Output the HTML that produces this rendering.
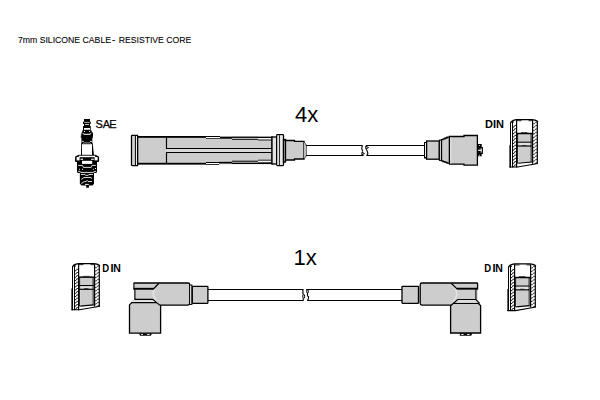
<!DOCTYPE html>
<html><head><meta charset="utf-8">
<style>html,body{margin:0;padding:0;background:#fff;width:600px;height:400px;overflow:hidden}svg{display:block}text{font-family:"Liberation Sans",sans-serif}</style></head><body>
<svg width="600" height="400" viewBox="0 0 600 400">
<g font-size="9.7" fill="#000" stroke="#000" stroke-width="0.1"><text x="18" y="43.2" textLength="93" lengthAdjust="spacingAndGlyphs">7mm SILICONE CABLE</text><text x="111.9" y="43.2">-</text><text x="118.7" y="43.2" textLength="72.6" lengthAdjust="spacingAndGlyphs">RESISTIVE CORE</text></g>
<text x="295" y="121.8" font-size="22" fill="#000">4x</text>
<text x="293.5" y="264.8" font-size="22" fill="#000">1x</text>
<g font-size="11" fill="#000" stroke="#000" stroke-width="0.25"><text x="95.4" y="127.8">S</text><text x="102.7" y="127.8">A</text><text x="109.3" y="127.8">E</text></g>
<g font-size="11" font-weight="bold" fill="#000"><text x="484.9" y="127.8">D</text><text x="493.05" y="127.8">I</text><text x="495.95" y="127.8">N</text></g>
<g font-size="11" font-weight="bold" fill="#000"><text x="102.3" y="271.8" textLength="6.9" lengthAdjust="spacingAndGlyphs">D</text><text x="110.55" y="271.8">I</text><text x="113.3" y="271.8" textLength="7.6" lengthAdjust="spacingAndGlyphs">N</text></g>
<g font-size="11" font-weight="bold" fill="#000"><text x="484.3" y="271.9" textLength="6.9" lengthAdjust="spacingAndGlyphs">D</text><text x="492.55" y="271.9">I</text><text x="495.3" y="271.9" textLength="7.6" lengthAdjust="spacingAndGlyphs">N</text></g>
<g><rect x="517.90" y="134.41" width="13.70" height="7.29" fill="#cdcdcd"/><rect x="517.90" y="142.83" width="13.70" height="2.67" fill="#e2e2e2"/><rect x="518.75" y="146.53" width="11.90" height="16.23" fill="#cdcdcd"/><rect x="518.10" y="147.76" width="0.65" height="15.40" fill="#e6e6e6"/><rect x="531.50" y="134.41" width="0.50" height="28.76" fill="#e6e6e6"/><rect x="509.40" y="145.19" width="0.85" height="22.29" fill="#000"/><rect x="510.00" y="122.70" width="1.00" height="44.78" fill="#000"/><rect x="512.00" y="121.06" width="1.00" height="46.42" fill="#000"/><rect x="516.00" y="120.03" width="1.20" height="47.45" fill="#000"/><rect x="532.00" y="120.24" width="1.20" height="43.54" fill="#000"/><rect x="536.70" y="121.36" width="1.20" height="42.42" fill="#000"/><rect x="514.60" y="124.96" width="1.30" height="0.92" fill="#000"/><rect x="513.00" y="126.60" width="1.00" height="0.92" fill="#000"/><path d="M514.00,127.01 L514.90,125.58" stroke="#000" stroke-width="0.75" fill="none"/><rect x="514.60" y="128.25" width="1.30" height="0.92" fill="#000"/><rect x="513.00" y="129.89" width="1.00" height="0.92" fill="#000"/><path d="M514.00,130.30 L514.90,128.86" stroke="#000" stroke-width="0.75" fill="none"/><rect x="514.60" y="131.53" width="1.30" height="0.92" fill="#000"/><rect x="513.00" y="133.18" width="1.00" height="0.92" fill="#000"/><path d="M514.00,133.59 L514.90,132.15" stroke="#000" stroke-width="0.75" fill="none"/><rect x="514.60" y="134.82" width="1.30" height="0.92" fill="#000"/><rect x="513.00" y="136.46" width="1.00" height="0.92" fill="#000"/><path d="M514.00,136.87 L514.90,135.43" stroke="#000" stroke-width="0.75" fill="none"/><rect x="514.60" y="138.10" width="1.30" height="0.92" fill="#000"/><rect x="513.00" y="139.75" width="1.00" height="0.92" fill="#000"/><path d="M514.00,140.16 L514.90,138.72" stroke="#000" stroke-width="0.75" fill="none"/><rect x="514.60" y="141.39" width="1.30" height="0.92" fill="#000"/><rect x="513.00" y="143.03" width="1.00" height="0.92" fill="#000"/><path d="M514.00,143.45 L514.90,142.01" stroke="#000" stroke-width="0.75" fill="none"/><rect x="514.60" y="144.68" width="1.30" height="0.92" fill="#000"/><rect x="513.00" y="146.32" width="1.00" height="0.92" fill="#000"/><path d="M514.00,146.73 L514.90,145.29" stroke="#000" stroke-width="0.75" fill="none"/><rect x="514.60" y="147.96" width="1.30" height="0.92" fill="#000"/><rect x="513.00" y="149.61" width="1.00" height="0.92" fill="#000"/><path d="M514.00,150.02 L514.90,148.58" stroke="#000" stroke-width="0.75" fill="none"/><rect x="514.60" y="151.25" width="1.30" height="0.92" fill="#000"/><rect x="513.00" y="152.89" width="1.00" height="0.92" fill="#000"/><path d="M514.00,153.30 L514.90,151.87" stroke="#000" stroke-width="0.75" fill="none"/><rect x="514.60" y="154.54" width="1.30" height="0.92" fill="#000"/><rect x="513.00" y="156.18" width="1.00" height="0.92" fill="#000"/><path d="M514.00,156.59 L514.90,155.15" stroke="#000" stroke-width="0.75" fill="none"/><rect x="514.60" y="157.82" width="1.30" height="0.92" fill="#000"/><rect x="513.00" y="159.47" width="1.00" height="0.92" fill="#000"/><path d="M514.00,159.88 L514.90,158.44" stroke="#000" stroke-width="0.75" fill="none"/><rect x="514.60" y="161.11" width="1.30" height="0.92" fill="#000"/><rect x="513.00" y="162.75" width="1.00" height="0.92" fill="#000"/><path d="M514.00,163.16 L514.90,161.73" stroke="#000" stroke-width="0.75" fill="none"/><rect x="514.60" y="164.40" width="1.30" height="0.92" fill="#000"/><rect x="513.00" y="166.04" width="1.00" height="0.92" fill="#000"/><path d="M514.00,166.45 L514.90,165.01" stroke="#000" stroke-width="0.75" fill="none"/><rect x="535.60" y="121.67" width="1.20" height="0.92" fill="#000"/><rect x="533.20" y="123.42" width="1.10" height="0.92" fill="#000"/><path d="M534.20,123.83 L535.70,122.29" stroke="#000" stroke-width="0.75" fill="none"/><rect x="535.60" y="125.06" width="1.20" height="0.92" fill="#000"/><rect x="533.20" y="126.81" width="1.10" height="0.92" fill="#000"/><path d="M534.20,127.22 L535.70,125.68" stroke="#000" stroke-width="0.75" fill="none"/><rect x="535.60" y="128.45" width="1.20" height="0.92" fill="#000"/><rect x="533.20" y="130.20" width="1.10" height="0.92" fill="#000"/><path d="M534.20,130.61 L535.70,129.07" stroke="#000" stroke-width="0.75" fill="none"/><rect x="535.60" y="131.84" width="1.20" height="0.92" fill="#000"/><rect x="533.20" y="133.59" width="1.10" height="0.92" fill="#000"/><path d="M534.20,134.00 L535.70,132.46" stroke="#000" stroke-width="0.75" fill="none"/><rect x="535.60" y="135.23" width="1.20" height="0.92" fill="#000"/><rect x="533.20" y="136.98" width="1.10" height="0.92" fill="#000"/><path d="M534.20,137.39 L535.70,135.85" stroke="#000" stroke-width="0.75" fill="none"/><rect x="535.60" y="138.62" width="1.20" height="0.92" fill="#000"/><rect x="533.20" y="140.36" width="1.10" height="0.92" fill="#000"/><path d="M534.20,140.78 L535.70,139.23" stroke="#000" stroke-width="0.75" fill="none"/><rect x="535.60" y="142.01" width="1.20" height="0.92" fill="#000"/><rect x="533.20" y="143.75" width="1.10" height="0.92" fill="#000"/><path d="M534.20,144.16 L535.70,142.62" stroke="#000" stroke-width="0.75" fill="none"/><rect x="535.60" y="145.40" width="1.20" height="0.92" fill="#000"/><rect x="533.20" y="147.14" width="1.10" height="0.92" fill="#000"/><path d="M534.20,147.55 L535.70,146.01" stroke="#000" stroke-width="0.75" fill="none"/><rect x="535.60" y="148.79" width="1.20" height="0.92" fill="#000"/><rect x="533.20" y="150.53" width="1.10" height="0.92" fill="#000"/><path d="M534.20,150.94 L535.70,149.40" stroke="#000" stroke-width="0.75" fill="none"/><rect x="535.60" y="152.17" width="1.20" height="0.92" fill="#000"/><rect x="533.20" y="153.92" width="1.10" height="0.92" fill="#000"/><path d="M534.20,154.33 L535.70,152.79" stroke="#000" stroke-width="0.75" fill="none"/><rect x="535.60" y="155.56" width="1.20" height="0.92" fill="#000"/><rect x="533.20" y="157.31" width="1.10" height="0.92" fill="#000"/><path d="M534.20,157.72 L535.70,156.18" stroke="#000" stroke-width="0.75" fill="none"/><rect x="535.60" y="158.95" width="1.20" height="0.92" fill="#000"/><rect x="533.20" y="160.70" width="1.10" height="0.92" fill="#000"/><path d="M534.20,161.11 L535.70,159.57" stroke="#000" stroke-width="0.75" fill="none"/><rect x="535.60" y="162.34" width="1.20" height="0.92" fill="#000"/><path d="M534.20,164.50 L535.70,162.96" stroke="#000" stroke-width="0.75" fill="none"/><path d="M510.50,123.32 Q511.20,120.24 516.50,119.62 L531.50,119.62 Q536.50,120.03 537.90,121.88" stroke="#000" stroke-width="1.3" fill="none"/><path d="M512.00,121.36 Q513.80,121.06 513.60,122.70" stroke="#000" stroke-width="0.8" fill="none"/><rect x="517.00" y="120.34" width="4.50" height="0.82" fill="#000"/><rect x="528.50" y="120.34" width="4.00" height="0.82" fill="#000"/><rect x="516.00" y="132.76" width="17.20" height="1.54" fill="#000"/><rect x="521.00" y="132.25" width="6.50" height="0.62" fill="#000"/><rect x="517.00" y="141.60" width="14.60" height="1.13" fill="#000"/><rect x="516.50" y="145.40" width="15.10" height="1.23" fill="#000"/><rect x="522.00" y="144.99" width="4.50" height="0.62" fill="#000"/><rect x="530.65" y="133.89" width="0.95" height="28.65" fill="#000"/><rect x="517.20" y="133.89" width="0.90" height="29.68" fill="#000"/><path d="M518.20,163.27 L531.50,162.03" stroke="#000" stroke-width="1.1" fill="none"/><path d="M509.40,167.07 L517.50,167.07 L537.90,163.47" stroke="#000" stroke-width="1.1" fill="none"/></g>
<g><rect x="79.90" y="278.00" width="13.70" height="7.10" fill="#cdcdcd"/><rect x="79.90" y="286.20" width="13.70" height="2.60" fill="#e2e2e2"/><rect x="80.75" y="289.80" width="11.90" height="15.80" fill="#cdcdcd"/><rect x="80.10" y="291.00" width="0.65" height="15.00" fill="#e6e6e6"/><rect x="93.50" y="278.00" width="0.50" height="28.00" fill="#e6e6e6"/><rect x="71.40" y="288.50" width="0.85" height="21.70" fill="#000"/><rect x="72.00" y="266.60" width="1.00" height="43.60" fill="#000"/><rect x="74.00" y="265.00" width="1.00" height="45.20" fill="#000"/><rect x="78.00" y="264.00" width="1.20" height="46.20" fill="#000"/><rect x="94.00" y="264.20" width="1.20" height="42.40" fill="#000"/><rect x="98.70" y="265.30" width="1.20" height="41.30" fill="#000"/><rect x="76.60" y="268.80" width="1.30" height="0.90" fill="#000"/><rect x="75.00" y="270.40" width="1.00" height="0.90" fill="#000"/><path d="M76.00,270.80 L76.90,269.40" stroke="#000" stroke-width="0.75" fill="none"/><rect x="76.60" y="272.00" width="1.30" height="0.90" fill="#000"/><rect x="75.00" y="273.60" width="1.00" height="0.90" fill="#000"/><path d="M76.00,274.00 L76.90,272.60" stroke="#000" stroke-width="0.75" fill="none"/><rect x="76.60" y="275.20" width="1.30" height="0.90" fill="#000"/><rect x="75.00" y="276.80" width="1.00" height="0.90" fill="#000"/><path d="M76.00,277.20 L76.90,275.80" stroke="#000" stroke-width="0.75" fill="none"/><rect x="76.60" y="278.40" width="1.30" height="0.90" fill="#000"/><rect x="75.00" y="280.00" width="1.00" height="0.90" fill="#000"/><path d="M76.00,280.40 L76.90,279.00" stroke="#000" stroke-width="0.75" fill="none"/><rect x="76.60" y="281.60" width="1.30" height="0.90" fill="#000"/><rect x="75.00" y="283.20" width="1.00" height="0.90" fill="#000"/><path d="M76.00,283.60 L76.90,282.20" stroke="#000" stroke-width="0.75" fill="none"/><rect x="76.60" y="284.80" width="1.30" height="0.90" fill="#000"/><rect x="75.00" y="286.40" width="1.00" height="0.90" fill="#000"/><path d="M76.00,286.80 L76.90,285.40" stroke="#000" stroke-width="0.75" fill="none"/><rect x="76.60" y="288.00" width="1.30" height="0.90" fill="#000"/><rect x="75.00" y="289.60" width="1.00" height="0.90" fill="#000"/><path d="M76.00,290.00 L76.90,288.60" stroke="#000" stroke-width="0.75" fill="none"/><rect x="76.60" y="291.20" width="1.30" height="0.90" fill="#000"/><rect x="75.00" y="292.80" width="1.00" height="0.90" fill="#000"/><path d="M76.00,293.20 L76.90,291.80" stroke="#000" stroke-width="0.75" fill="none"/><rect x="76.60" y="294.40" width="1.30" height="0.90" fill="#000"/><rect x="75.00" y="296.00" width="1.00" height="0.90" fill="#000"/><path d="M76.00,296.40 L76.90,295.00" stroke="#000" stroke-width="0.75" fill="none"/><rect x="76.60" y="297.60" width="1.30" height="0.90" fill="#000"/><rect x="75.00" y="299.20" width="1.00" height="0.90" fill="#000"/><path d="M76.00,299.60 L76.90,298.20" stroke="#000" stroke-width="0.75" fill="none"/><rect x="76.60" y="300.80" width="1.30" height="0.90" fill="#000"/><rect x="75.00" y="302.40" width="1.00" height="0.90" fill="#000"/><path d="M76.00,302.80 L76.90,301.40" stroke="#000" stroke-width="0.75" fill="none"/><rect x="76.60" y="304.00" width="1.30" height="0.90" fill="#000"/><rect x="75.00" y="305.60" width="1.00" height="0.90" fill="#000"/><path d="M76.00,306.00 L76.90,304.60" stroke="#000" stroke-width="0.75" fill="none"/><rect x="76.60" y="307.20" width="1.30" height="0.90" fill="#000"/><rect x="75.00" y="308.80" width="1.00" height="0.90" fill="#000"/><path d="M76.00,309.20 L76.90,307.80" stroke="#000" stroke-width="0.75" fill="none"/><rect x="97.60" y="265.60" width="1.20" height="0.90" fill="#000"/><rect x="95.20" y="267.30" width="1.10" height="0.90" fill="#000"/><path d="M96.20,267.70 L97.70,266.20" stroke="#000" stroke-width="0.75" fill="none"/><rect x="97.60" y="268.90" width="1.20" height="0.90" fill="#000"/><rect x="95.20" y="270.60" width="1.10" height="0.90" fill="#000"/><path d="M96.20,271.00 L97.70,269.50" stroke="#000" stroke-width="0.75" fill="none"/><rect x="97.60" y="272.20" width="1.20" height="0.90" fill="#000"/><rect x="95.20" y="273.90" width="1.10" height="0.90" fill="#000"/><path d="M96.20,274.30 L97.70,272.80" stroke="#000" stroke-width="0.75" fill="none"/><rect x="97.60" y="275.50" width="1.20" height="0.90" fill="#000"/><rect x="95.20" y="277.20" width="1.10" height="0.90" fill="#000"/><path d="M96.20,277.60 L97.70,276.10" stroke="#000" stroke-width="0.75" fill="none"/><rect x="97.60" y="278.80" width="1.20" height="0.90" fill="#000"/><rect x="95.20" y="280.50" width="1.10" height="0.90" fill="#000"/><path d="M96.20,280.90 L97.70,279.40" stroke="#000" stroke-width="0.75" fill="none"/><rect x="97.60" y="282.10" width="1.20" height="0.90" fill="#000"/><rect x="95.20" y="283.80" width="1.10" height="0.90" fill="#000"/><path d="M96.20,284.20 L97.70,282.70" stroke="#000" stroke-width="0.75" fill="none"/><rect x="97.60" y="285.40" width="1.20" height="0.90" fill="#000"/><rect x="95.20" y="287.10" width="1.10" height="0.90" fill="#000"/><path d="M96.20,287.50 L97.70,286.00" stroke="#000" stroke-width="0.75" fill="none"/><rect x="97.60" y="288.70" width="1.20" height="0.90" fill="#000"/><rect x="95.20" y="290.40" width="1.10" height="0.90" fill="#000"/><path d="M96.20,290.80 L97.70,289.30" stroke="#000" stroke-width="0.75" fill="none"/><rect x="97.60" y="292.00" width="1.20" height="0.90" fill="#000"/><rect x="95.20" y="293.70" width="1.10" height="0.90" fill="#000"/><path d="M96.20,294.10 L97.70,292.60" stroke="#000" stroke-width="0.75" fill="none"/><rect x="97.60" y="295.30" width="1.20" height="0.90" fill="#000"/><rect x="95.20" y="297.00" width="1.10" height="0.90" fill="#000"/><path d="M96.20,297.40 L97.70,295.90" stroke="#000" stroke-width="0.75" fill="none"/><rect x="97.60" y="298.60" width="1.20" height="0.90" fill="#000"/><rect x="95.20" y="300.30" width="1.10" height="0.90" fill="#000"/><path d="M96.20,300.70 L97.70,299.20" stroke="#000" stroke-width="0.75" fill="none"/><rect x="97.60" y="301.90" width="1.20" height="0.90" fill="#000"/><rect x="95.20" y="303.60" width="1.10" height="0.90" fill="#000"/><path d="M96.20,304.00 L97.70,302.50" stroke="#000" stroke-width="0.75" fill="none"/><rect x="97.60" y="305.20" width="1.20" height="0.90" fill="#000"/><path d="M96.20,307.30 L97.70,305.80" stroke="#000" stroke-width="0.75" fill="none"/><path d="M72.50,267.20 Q73.20,264.20 78.50,263.60 L93.50,263.60 Q98.50,264.00 99.90,265.80" stroke="#000" stroke-width="1.3" fill="none"/><path d="M74.00,265.30 Q75.80,265.00 75.60,266.60" stroke="#000" stroke-width="0.8" fill="none"/><rect x="79.00" y="264.30" width="4.50" height="0.80" fill="#000"/><rect x="90.50" y="264.30" width="4.00" height="0.80" fill="#000"/><rect x="78.00" y="276.40" width="17.20" height="1.50" fill="#000"/><rect x="83.00" y="275.90" width="6.50" height="0.60" fill="#000"/><rect x="79.00" y="285.00" width="14.60" height="1.10" fill="#000"/><rect x="78.50" y="288.70" width="15.10" height="1.20" fill="#000"/><rect x="84.00" y="288.30" width="4.50" height="0.60" fill="#000"/><rect x="92.65" y="277.50" width="0.95" height="27.90" fill="#000"/><rect x="79.20" y="277.50" width="0.90" height="28.90" fill="#000"/><path d="M80.20,306.10 L93.50,304.90" stroke="#000" stroke-width="1.1" fill="none"/><path d="M71.40,309.80 L79.50,309.80 L99.90,306.30" stroke="#000" stroke-width="1.1" fill="none"/></g>
<g><rect x="515.90" y="278.40" width="13.70" height="7.19" fill="#cdcdcd"/><rect x="515.90" y="286.70" width="13.70" height="2.63" fill="#e2e2e2"/><rect x="516.75" y="290.35" width="11.90" height="16.01" fill="#cdcdcd"/><rect x="516.10" y="291.57" width="0.65" height="15.19" fill="#e6e6e6"/><rect x="529.50" y="278.40" width="0.50" height="28.36" fill="#e6e6e6"/><rect x="507.40" y="289.03" width="0.85" height="21.98" fill="#000"/><rect x="508.00" y="266.85" width="1.00" height="44.17" fill="#000"/><rect x="510.00" y="265.23" width="1.00" height="45.79" fill="#000"/><rect x="514.00" y="264.21" width="1.20" height="46.80" fill="#000"/><rect x="530.00" y="264.42" width="1.20" height="42.95" fill="#000"/><rect x="534.70" y="265.53" width="1.20" height="41.84" fill="#000"/><rect x="512.60" y="269.08" width="1.30" height="0.91" fill="#000"/><rect x="511.00" y="270.70" width="1.00" height="0.91" fill="#000"/><path d="M512.00,271.10 L512.90,269.68" stroke="#000" stroke-width="0.75" fill="none"/><rect x="512.60" y="272.32" width="1.30" height="0.91" fill="#000"/><rect x="511.00" y="273.94" width="1.00" height="0.91" fill="#000"/><path d="M512.00,274.34 L512.90,272.93" stroke="#000" stroke-width="0.75" fill="none"/><rect x="512.60" y="275.56" width="1.30" height="0.91" fill="#000"/><rect x="511.00" y="277.18" width="1.00" height="0.91" fill="#000"/><path d="M512.00,277.59 L512.90,276.17" stroke="#000" stroke-width="0.75" fill="none"/><rect x="512.60" y="278.80" width="1.30" height="0.91" fill="#000"/><rect x="511.00" y="280.42" width="1.00" height="0.91" fill="#000"/><path d="M512.00,280.83 L512.90,279.41" stroke="#000" stroke-width="0.75" fill="none"/><rect x="512.60" y="282.04" width="1.30" height="0.91" fill="#000"/><rect x="511.00" y="283.66" width="1.00" height="0.91" fill="#000"/><path d="M512.00,284.07 L512.90,282.65" stroke="#000" stroke-width="0.75" fill="none"/><rect x="512.60" y="285.28" width="1.30" height="0.91" fill="#000"/><rect x="511.00" y="286.91" width="1.00" height="0.91" fill="#000"/><path d="M512.00,287.31 L512.90,285.89" stroke="#000" stroke-width="0.75" fill="none"/><rect x="512.60" y="288.53" width="1.30" height="0.91" fill="#000"/><rect x="511.00" y="290.15" width="1.00" height="0.91" fill="#000"/><path d="M512.00,290.55 L512.90,289.13" stroke="#000" stroke-width="0.75" fill="none"/><rect x="512.60" y="291.77" width="1.30" height="0.91" fill="#000"/><rect x="511.00" y="293.39" width="1.00" height="0.91" fill="#000"/><path d="M512.00,293.79 L512.90,292.38" stroke="#000" stroke-width="0.75" fill="none"/><rect x="512.60" y="295.01" width="1.30" height="0.91" fill="#000"/><rect x="511.00" y="296.63" width="1.00" height="0.91" fill="#000"/><path d="M512.00,297.04 L512.90,295.62" stroke="#000" stroke-width="0.75" fill="none"/><rect x="512.60" y="298.25" width="1.30" height="0.91" fill="#000"/><rect x="511.00" y="299.87" width="1.00" height="0.91" fill="#000"/><path d="M512.00,300.28 L512.90,298.86" stroke="#000" stroke-width="0.75" fill="none"/><rect x="512.60" y="301.49" width="1.30" height="0.91" fill="#000"/><rect x="511.00" y="303.11" width="1.00" height="0.91" fill="#000"/><path d="M512.00,303.52 L512.90,302.10" stroke="#000" stroke-width="0.75" fill="none"/><rect x="512.60" y="304.73" width="1.30" height="0.91" fill="#000"/><rect x="511.00" y="306.36" width="1.00" height="0.91" fill="#000"/><path d="M512.00,306.76 L512.90,305.34" stroke="#000" stroke-width="0.75" fill="none"/><rect x="512.60" y="307.98" width="1.30" height="0.91" fill="#000"/><rect x="511.00" y="309.60" width="1.00" height="0.91" fill="#000"/><path d="M512.00,310.00 L512.90,308.58" stroke="#000" stroke-width="0.75" fill="none"/><rect x="533.60" y="265.84" width="1.20" height="0.91" fill="#000"/><rect x="531.20" y="267.56" width="1.10" height="0.91" fill="#000"/><path d="M532.20,267.96 L533.70,266.44" stroke="#000" stroke-width="0.75" fill="none"/><rect x="533.60" y="269.18" width="1.20" height="0.91" fill="#000"/><rect x="531.20" y="270.90" width="1.10" height="0.91" fill="#000"/><path d="M532.20,271.31 L533.70,269.79" stroke="#000" stroke-width="0.75" fill="none"/><rect x="533.60" y="272.52" width="1.20" height="0.91" fill="#000"/><rect x="531.20" y="274.24" width="1.10" height="0.91" fill="#000"/><path d="M532.20,274.65 L533.70,273.13" stroke="#000" stroke-width="0.75" fill="none"/><rect x="533.60" y="275.86" width="1.20" height="0.91" fill="#000"/><rect x="531.20" y="277.59" width="1.10" height="0.91" fill="#000"/><path d="M532.20,277.99 L533.70,276.47" stroke="#000" stroke-width="0.75" fill="none"/><rect x="533.60" y="279.21" width="1.20" height="0.91" fill="#000"/><rect x="531.20" y="280.93" width="1.10" height="0.91" fill="#000"/><path d="M532.20,281.33 L533.70,279.81" stroke="#000" stroke-width="0.75" fill="none"/><rect x="533.60" y="282.55" width="1.20" height="0.91" fill="#000"/><rect x="531.20" y="284.27" width="1.10" height="0.91" fill="#000"/><path d="M532.20,284.68 L533.70,283.16" stroke="#000" stroke-width="0.75" fill="none"/><rect x="533.60" y="285.89" width="1.20" height="0.91" fill="#000"/><rect x="531.20" y="287.61" width="1.10" height="0.91" fill="#000"/><path d="M532.20,288.02 L533.70,286.50" stroke="#000" stroke-width="0.75" fill="none"/><rect x="533.60" y="289.24" width="1.20" height="0.91" fill="#000"/><rect x="531.20" y="290.96" width="1.10" height="0.91" fill="#000"/><path d="M532.20,291.36 L533.70,289.84" stroke="#000" stroke-width="0.75" fill="none"/><rect x="533.60" y="292.58" width="1.20" height="0.91" fill="#000"/><rect x="531.20" y="294.30" width="1.10" height="0.91" fill="#000"/><path d="M532.20,294.71 L533.70,293.19" stroke="#000" stroke-width="0.75" fill="none"/><rect x="533.60" y="295.92" width="1.20" height="0.91" fill="#000"/><rect x="531.20" y="297.64" width="1.10" height="0.91" fill="#000"/><path d="M532.20,298.05 L533.70,296.53" stroke="#000" stroke-width="0.75" fill="none"/><rect x="533.60" y="299.26" width="1.20" height="0.91" fill="#000"/><rect x="531.20" y="300.99" width="1.10" height="0.91" fill="#000"/><path d="M532.20,301.39 L533.70,299.87" stroke="#000" stroke-width="0.75" fill="none"/><rect x="533.60" y="302.61" width="1.20" height="0.91" fill="#000"/><rect x="531.20" y="304.33" width="1.10" height="0.91" fill="#000"/><path d="M532.20,304.73 L533.70,303.21" stroke="#000" stroke-width="0.75" fill="none"/><rect x="533.60" y="305.95" width="1.20" height="0.91" fill="#000"/><path d="M532.20,308.08 L533.70,306.56" stroke="#000" stroke-width="0.75" fill="none"/><path d="M508.50,267.46 Q509.20,264.42 514.50,263.81 L529.50,263.81 Q534.50,264.21 535.90,266.04" stroke="#000" stroke-width="1.3" fill="none"/><path d="M510.00,265.53 Q511.80,265.23 511.60,266.85" stroke="#000" stroke-width="0.8" fill="none"/><rect x="515.00" y="264.52" width="4.50" height="0.81" fill="#000"/><rect x="526.50" y="264.52" width="4.00" height="0.81" fill="#000"/><rect x="514.00" y="276.78" width="17.20" height="1.52" fill="#000"/><rect x="519.00" y="276.27" width="6.50" height="0.61" fill="#000"/><rect x="515.00" y="285.49" width="14.60" height="1.11" fill="#000"/><rect x="514.50" y="289.24" width="15.10" height="1.22" fill="#000"/><rect x="520.00" y="288.83" width="4.50" height="0.61" fill="#000"/><rect x="528.65" y="277.89" width="0.95" height="28.26" fill="#000"/><rect x="515.20" y="277.89" width="0.90" height="29.28" fill="#000"/><path d="M516.20,306.86 L529.50,305.65" stroke="#000" stroke-width="1.1" fill="none"/><path d="M507.40,310.61 L515.50,310.61 L535.90,307.06" stroke="#000" stroke-width="1.1" fill="none"/></g>
<g stroke="#000" stroke-width="1.3" fill="#cdcdcd">
<rect x="137.5" y="136.5" width="134.5" height="27.8" fill="#cdcdcd" stroke="none"/>
<path d="M137.5,135.8 L137.5,164.8 M272,136.2 L272,164.4" fill="none"/>
<path d="M131.5,136 Q131.5,135.3 132.3,135.3 L137.5,135.3 L137.5,165.6 L132.3,165.6 Q131.5,165.6 131.5,164.8 Z" fill="#d6d6d6"/>
<rect x="135.9" y="136" width="1" height="29" fill="#f4f4f4" stroke="none"/>
<path d="M135.4,135.5 L135.4,165.5" fill="none" stroke-width="1"/>
<rect x="167" y="149" width="104.5" height="3" fill="#d8d8d8" stroke="none"/>
<path d="M166.5,136.8 L166.5,148.5 L272,148.5 M166.5,164 L166.5,152.5 L272,152.5" fill="none" stroke-width="1.15"/>
</g>
<rect x="137.5" y="136.0" width="68.50" height="1.80" fill="#000"/>
<rect x="206" y="136.0" width="14.00" height="1.00" fill="#000"/>
<rect x="206" y="137.0" width="14.00" height="1.00" fill="#fff"/>
<rect x="206" y="138.0" width="14.00" height="0.70" fill="#000"/>
<rect x="220" y="136.7" width="12.00" height="2.00" fill="#000"/>
<rect x="232" y="136.6" width="26.00" height="1.30" fill="#000"/>
<rect x="232" y="138.9" width="26.00" height="0.90" fill="#000"/>
<rect x="258" y="136.7" width="13.50" height="1.30" fill="#000"/>
<rect x="258" y="138.0" width="13.00" height="1.00" fill="#f6f6f6"/>
<rect x="258" y="139.6" width="13.00" height="0.90" fill="#222"/>
<rect x="137.5" y="162.8" width="68.50" height="1.80" fill="#000"/>
<rect x="206" y="162.0" width="13.00" height="1.00" fill="#000"/>
<rect x="206" y="163.0" width="13.00" height="1.00" fill="#fff"/>
<rect x="206" y="164.0" width="13.00" height="0.80" fill="#000"/>
<rect x="219" y="161.8" width="13.00" height="1.70" fill="#000"/>
<rect x="232" y="160.7" width="26.00" height="1.00" fill="#000"/>
<rect x="232" y="162.7" width="26.00" height="1.30" fill="#000"/>
<rect x="258" y="159.7" width="13.00" height="0.90" fill="#222"/>
<rect x="258" y="161.0" width="13.00" height="1.00" fill="#f6f6f6"/>
<rect x="258" y="162.4" width="13.50" height="1.60" fill="#000"/>
<g stroke="#000" stroke-width="1.3" fill="#cdcdcd">
<rect x="272" y="137" width="4.7" height="27" fill="#e2e2e2"/>
<rect x="276.7" y="134.6" width="6.8" height="31" rx="0.8" fill="#dcdcdc"/>
<path d="M279.4,135.2 L279.4,165" fill="none" stroke-width="0.9"/>
<rect x="277.6" y="135.5" width="1" height="29.5" fill="#f0f0f0" stroke="none"/>
<rect x="280.4" y="135.5" width="2" height="29.5" fill="#eaeaea" stroke="none"/>
<rect x="283.5" y="139.5" width="2" height="22.5" fill="#d8d8d8"/>
<path d="M285.5,140.5 L294.5,140.5 L294.5,141.3 L304,141.3 L304,159 L294.5,159 L294.5,160 L285.5,160 Z"/>
<path d="M304.4,142.6 Q306.2,143.6 306.2,146 L306.2,155 Q306.2,157.4 304.4,158.2" fill="#fff" stroke-width="0.8"/>
<path d="M306,145.5 L362.6,145.5 M306,155.5 L363.6,155.5 M366,145.5 L424.5,145.5 M366.4,155.5 L424.5,155.5" fill="none" stroke-width="1.15"/>
<path d="M362.4,145.5 L361.7,148.5 L362.7,151.6" fill="none" stroke-width="1.1"/>
<path d="M361.9,152.1 L364.5,153.6 L361.9,154.9 Z" fill="#d0d0d0" stroke-width="0.9"/>
<path d="M365.6,146.1 L368.6,147.6 L365.9,149.1 Z" fill="#d0d0d0" stroke-width="0.9"/>
<path d="M366.3,149.2 L367.5,151.9 L367.9,153.6 L366.8,155.4" fill="none" stroke-width="1.1"/>
<rect x="424.5" y="142.5" width="2" height="15.5" fill="#f4f4f4" stroke-width="1.0"/>
<rect x="426.6" y="141" width="12.6" height="18.2"/>
<rect x="439.4" y="140.1" width="2.4" height="20.3" fill="#f4f4f4" stroke-width="1.0"/>
<path d="M441.5,139.6 L443,139.6 L443,138.8 L445,138.8 L445,138 L447,138 L447,137.2 L449.5,137.2 L449.5,163.2 L447,163.2 L447,162.4 L445,162.4 L445,161.6 L443,161.6 L443,160.8 L441.5,160.8 Z"/>
<path d="M449.5,136.5 L464,136.5 L464,135.5 L477.4,135.5 L477.4,165.2 L464,165.2 L464,164.2 L449.5,164.2 Z"/>
<rect x="450.3" y="137.3" width="1" height="26.2" fill="#ececec" stroke="none"/>
</g>
<path d="M477.8,144 L481.7,144 L481.7,147 L482.9,147 L482.9,153.9 L481.7,153.9 L481.7,156.3 L477.8,156.3 Z" fill="#000"/>
<rect x="478.1" y="149.6" width="3.6" height="1.2" fill="#fff"/><rect x="480.7" y="148.2" width="0.9" height="4.5" fill="#fff"/>
<rect x="478.9" y="145.1" width="0.9" height="0.9" fill="#fff"/><rect x="478.9" y="154.9" width="0.9" height="0.9" fill="#fff"/>
<g fill="#000">
<rect x="84.0" y="119.0" width="6.00" height="2.90"/>
<rect x="83.0" y="121.7" width="7.75" height="2.30"/>
<rect x="84.0" y="123.8" width="6.00" height="2.40"/>
<rect x="83.0" y="126.0" width="7.75" height="5.00"/>
<rect x="82.25" y="130.5" width="9.50" height="2.50"/>
<rect x="81.5" y="132.5" width="11.50" height="3.50"/>
<rect x="81.45" y="135.5" width="10.85" height="8.30"/>
<rect x="80.75" y="134.6" width="12.25" height="0.80"/>
<rect x="80.75" y="136.0" width="12.25" height="0.80"/>
<rect x="80.75" y="137.3" width="12.25" height="0.80"/>
<path d="M81.2,143.2 L92.7,143.2 L94.0,155.7 L81.0,155.7 Z"/>
<path d="M78.8,154.8 L95.2,154.8 L96.5,155.3 L97.8,156.1 L99.0,156.8 L99.1,161.3 L98.2,161.9 L97.0,162.0 L97.0,172.2 L95.8,172.9 L94.0,173.0 L94.0,183.7 L92.5,185.5 L88.9,185.5 L88.9,187.8 L86.2,187.8 L86.2,185.5 L81.5,185.5 L79.85,183.7 L79.85,173.0 L78.0,172.9 L77.0,172.2 L77.0,162.0 L75.9,161.9 L75.0,161.3 L75.1,156.8 L76.2,156.1 L77.6,155.3 Z"/>
</g>
<g fill="#fff">
<rect x="84.25" y="122.2" width="5.50" height="0.60"/>
<rect x="85.0" y="124.25" width="4.00" height="0.75"/>
<rect x="84.0" y="128.0" width="6.00" height="1.75"/>
<rect x="84.0" y="131.0" width="1.00" height="1.00"/>
<rect x="89.0" y="131.0" width="1.00" height="1.00"/>
<rect x="81.9" y="140.9" width="2.00" height="0.80"/>
<rect x="89.9" y="140.9" width="2.10" height="0.80"/>
<rect x="82.0" y="144.2" width="10.00" height="10.60"/>
<rect x="78.8" y="155.7" width="16.40" height="1.50"/>
<rect x="76.6" y="157.0" width="3.00" height="3.40"/>
<rect x="94.6" y="157.0" width="3.00" height="3.40"/>
<rect x="80.5" y="158.7" width="2.60" height="1.10"/>
<rect x="91.1" y="158.7" width="2.80" height="1.10"/>
<rect x="82.0" y="160.8" width="10.20" height="3.10"/>
<rect x="78.9" y="168.8" width="1.00" height="1.00"/>
<rect x="82.0" y="168.8" width="1.00" height="1.00"/>
<rect x="92.8" y="168.8" width="1.00" height="1.00"/>
<rect x="95.0" y="168.0" width="1.00" height="1.00"/>
<rect x="85.0" y="183.9" width="3.90" height="0.90"/>
</g>
<g fill="none" stroke="#fff" stroke-width="0.85">
<path d="M82.9,133.1 L83.6,134.3 L90.2,134.3 L90.9,133.1" stroke-width="1.0"/>
<path d="M78.1,165.4 L82.5,165.4 L83.4,167.4 L91.2,167.4 L92.1,165.4 L95.9,165.4"/>
<path d="M78.1,171.4 L80.1,171.4 L80.6,172.4 L93.6,172.4 L94.1,171.4 L95.9,171.4"/>
<path d="M81.0,174.45 L84.9,174.45 L85.5,175.3 L88.3,175.3 L88.9,174.45 L92.9,174.45"/>
<path d="M81.3,179.4 L83.9,177.6 L91.0,177.4 L91.9,178.8"/>
<path d="M81.3,183.5 L84.4,181.6 L86.2,181.5 L87.1,180.4 L88.0,181.5 L92.0,181.5"/>
</g>
<path d="M83.2,143.7 L84.2,142.9 L89.6,142.9 L90.6,143.7" fill="none" stroke="#fff" stroke-width="0.6"/>
<g stroke="#000" stroke-width="1.3" fill="#cdcdcd">
<path d="M129.5,304.9 L131.8,302.6 L158.2,302.6 L160.6,304.9 L160.6,333.1 L129.5,333.1 Z"/>
<rect x="131.5" y="300" width="22" height="1.8" fill="#dcdcdc" stroke="none"/>
<rect x="134" y="283" width="28" height="16.4" fill="#cdcdcd" stroke="none"/>
<path d="M158.7,283 L188,283 Q189.7,283 189.7,284.8 L189.7,303.3 Q189.7,305.1 188,305.1 L159.6,305.1 L152.8,299.3 L153.5,288.8 Z" fill="#cdcdcd" stroke="none"/>
<path d="M158.5,283.8 Q153.6,288.5 153.2,293.5 Q153.4,297.5 157.5,303" fill="none" stroke="#e3e3e3" stroke-width="1.6"/>
<path d="M133.6,283 L188,283 Q189.7,283 189.7,284.8 L189.7,303.3 Q189.7,305.1 188,305.1 L159.6,305.1" fill="none"/>
<path d="M133.9,283 L133.9,289.6 M134.9,289.4 L134.9,299.6" fill="none" stroke-width="1.1"/>
<path d="M133.5,288.8 L153.5,288.8" fill="none" stroke-width="1.9"/>
<path d="M153.2,289.2 L158.9,283.2" fill="none" stroke-width="1.3"/>
<path d="M134.5,299.3 L152.8,299.3 L159.6,305.1" fill="none" stroke-width="1.2"/>
<rect x="189.6" y="285" width="2.3" height="19.4" fill="#f4f4f4" stroke-width="1.0"/>
<rect x="192.3" y="286.4" width="15.6" height="16.9" rx="0.5"/>
<path d="M138.8,333.4 L152,333.4 L150.8,335.8 L140.2,335.8 Z" fill="#000" stroke="none"/>
<path d="M450.6,305.6 L452.9,303.3 L478.2,303.3 L480.6,305.6 L480.6,333.0 L450.6,333.0 Z"/>
<rect x="457" y="300.1" width="20.5" height="2.5" fill="#dcdcdc" stroke="none"/>
<rect x="449" y="283" width="28.6" height="16.5" fill="#cdcdcd" stroke="none"/>
<path d="M422,283 L451.3,283 L457.1,288.7 L458,299.5 L451.6,305.1 L422,305.1 Q420.2,305.1 420.2,303.3 L420.2,284.8 Q420.2,283 422,283 Z" fill="#cdcdcd" stroke="none"/>
<path d="M451.5,283.8 Q456.4,288.5 456.8,293.5 Q456.6,297.5 452.5,303" fill="none" stroke="#e3e3e3" stroke-width="1.6"/>
<path d="M451.6,305.1 L422,305.1 Q420.2,305.1 420.2,303.3 L420.2,284.8 Q420.2,283 422,283 L476.9,283 Q477.6,283 477.6,283.7 L477.6,289.5" fill="none"/>
<path d="M451.2,283.2 L457,288.9" fill="none" stroke-width="1.3"/>
<path d="M456.8,288.7 L477.6,288.7" fill="none" stroke-width="1.9"/>
<path d="M475.9,289 L475.9,299.6" fill="none" stroke-width="1.1"/>
<path d="M451.4,305 L457.8,299.5 L476,299.5 L479.6,303.3" fill="none" stroke-width="1.2"/>
<rect x="402" y="286.3" width="16.5" height="17" rx="0.5"/>
<path d="M459.8,333.3 L472,333.3 L471.6,335.3 L470.8,335.8 L459.8,335.8 Z" fill="#000" stroke="none"/>
<path d="M208,289.5 L303.6,289.5 M208,300.5 L303.6,300.5 M306.2,289.5 L402,289.5 M307.2,300.5 L402,300.5" fill="none" stroke-width="1.15"/>
<path d="M302.9,289.7 L302.9,293.6 L303.5,294.3 M303.2,298.6 L303.2,300.4" fill="none" stroke-width="1.15"/>
<ellipse cx="303.7" cy="296.4" rx="1.0" ry="2.1" fill="#e0e0e0" stroke-width="1.0"/>
<ellipse cx="307.5" cy="291.5" rx="0.9" ry="1.7" fill="#e0e0e0" stroke-width="1.0"/>
<path d="M307.5,293.1 L307.5,296 L308.5,296.5 L308.5,298.4 L307.5,300.4" fill="none" stroke-width="1.1"/>
</g>
<ellipse cx="142.0" cy="334.55" rx="1.1" ry="0.55" fill="#fff"/>
<ellipse cx="148.4" cy="334.55" rx="1.5" ry="0.55" fill="#fff"/>
<ellipse cx="462.4" cy="334.55" rx="1.5" ry="0.55" fill="#fff"/>
<ellipse cx="468.4" cy="334.55" rx="1.5" ry="0.55" fill="#fff"/>
</svg></body></html>
